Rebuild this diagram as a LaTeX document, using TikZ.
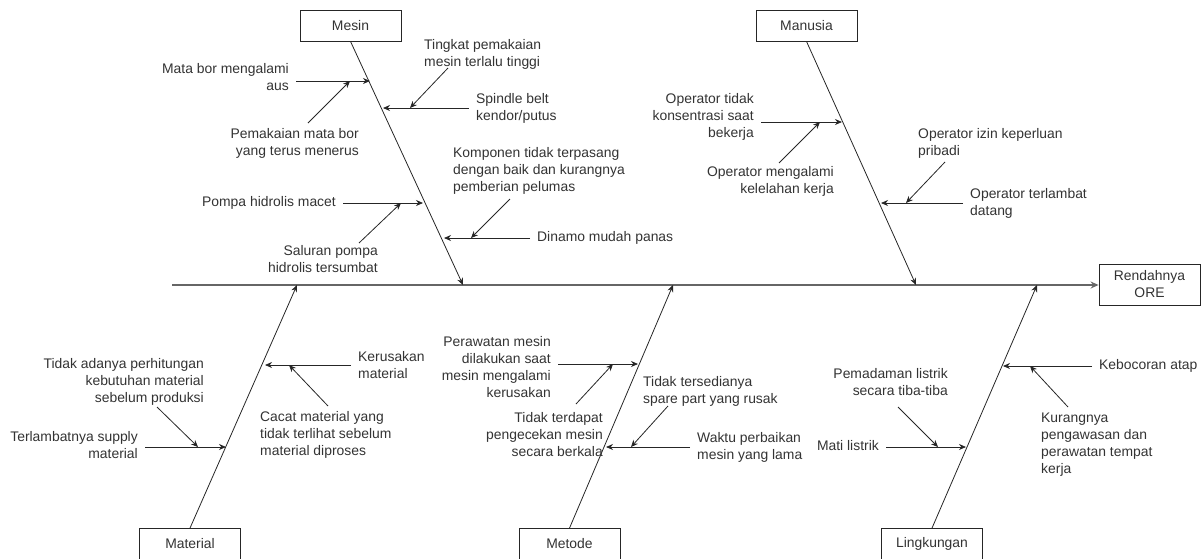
\documentclass[tikz,border=0pt]{standalone}
\usepackage{fontspec}
\setmainfont{Liberation Sans}
\usetikzlibrary{arrows.meta, calc}
\colorlet{line-color}{black!85}
\colorlet{spine-color}{black!60}
\colorlet{text-color}{black!80}
\tikzset{
    category/.style = {draw=line-color, line width=0.8pt, minimum width=101pt,
        minimum height=31pt, inner sep=0pt, align=center, text=text-color,
        font=\fontsize{13.9}{17}\selectfont},
    cause/.style = {inner xsep=7pt, inner ysep=0pt, text=text-color,
        font=\fontsize{13.9}{17}\selectfont},
    bone/.style = {draw=line-color, line width=0.8pt, -{Stealth[length=7pt,width=6pt]}},
    spine/.style = {draw=spine-color, line width=1.5pt, -{Stealth[length=8pt,width=7pt]}}
}

\begin{document}
\begin{tikzpicture}[x=1pt, y=-1pt]
\useasboundingbox (0,0) rectangle (1203,558);

% kategori
\node[category] (mesin)      at (350.5,25.5) {Mesin};
\node[category] (manusia)    at (806.5,25.5) {Manusia};
\node[category] (material)   at (190,544)    {Material};
\node[category] (metode)     at (569.5,544)  {Metode};
\node[category] (lingkungan) at (932,544)    {Lingkungan};
\node[category, minimum height=41pt] (ore) at (1149.5,284.5) {Rendahnya\\ORE};

% tulang utama
\coordinate (tail) at (172,285);
\draw[spine] (tail) -- (tail -| ore.west);

\coordinate (j-mesin)      at (463,285);
\coordinate (j-manusia)    at (916,285);
\coordinate (j-material)   at (297,285);
\coordinate (j-metode)     at (673,285);
\coordinate (j-lingkungan) at (1037,285);
\draw[bone] (mesin.south)      -- (j-mesin);
\draw[bone] (manusia.south)    -- (j-manusia);
\draw[bone] (material.north)   -- (j-material);
\draw[bone] (metode.north)     -- (j-metode);
\draw[bone] (lingkungan.north) -- (j-lingkungan);

% Mesin
\node[cause, anchor=east, align=right] (matabor) at (296,77.5) {Mata bor mengalami\\aus};
\node[cause, anchor=east, align=right] (pemakaian) at (366,143.5) {Pemakaian mata bor\\yang terus menerus};
\node[cause, anchor=west, align=left] (tingkat) at (417,54.5) {Tingkat pemakaian\\mesin terlalu tinggi};
\node[cause, anchor=west, align=left] (spindle) at (469,108.5) {Spindle belt\\kendor/putus};
\node[cause, anchor=west, align=left] (komponen) at (446,171) {Komponen tidak terpasang\\dengan baik dan kurangnya\\pemberian pelumas};
\node[cause, anchor=west] (dinamo) at (530,238) {Dinamo mudah panas};
\node[cause, anchor=east] (pompa) at (343,203) {Pompa hidrolis macet};
\node[cause, anchor=east, align=right] (saluran) at (385,259) {Saluran pompa\\hidrolis tersumbat};

\coordinate (m-1) at (370,81);
\coordinate (m-2) at (383,108);
\coordinate (m-3) at (423,203);
\coordinate (m-4) at (444,238);
\draw[bone] (matabor.east |- m-1) -- (m-1);
\draw[bone] (spindle.west |- m-2) -- (m-2);
\draw[bone] (pompa.east |- m-3) -- (m-3);
\draw[bone] (dinamo.west |- m-4) -- (m-4);
\coordinate (t-pemakaian) at (308,123);
\coordinate (t-tingkat)   at (448,68);
\coordinate (t-saluran)   at (359,243);
\coordinate (t-komponen)  at (510,199);
\draw[bone] (t-pemakaian) -- (350,81);
\draw[bone] (t-tingkat)   -- (410,108);
\draw[bone] (t-saluran)   -- (401,203);
\draw[bone] (t-komponen)  -- (471,238);

% Manusia
\node[cause, anchor=east, align=right] (optidak) at (761,117) {Operator tidak\\konsentrasi saat\\bekerja};
\node[cause, anchor=east, align=right] (oplelah) at (841,181) {Operator mengalami\\kelelahan kerja};
\node[cause, anchor=west, align=left] (opizin) at (911,143) {Operator izin keperluan\\pribadi};
\node[cause, anchor=west, align=left] (opterlambat) at (963,203.5) {Operator terlambat\\datang};

\coordinate (h-1) at (842,122);
\coordinate (h-2) at (881,203);
\draw[bone] (optidak.east |- h-1) -- (h-1);
\draw[bone] (opterlambat.west |- h-2) -- (h-2);
\coordinate (t-oplelah) at (779,163);
\coordinate (t-opizin)  at (945,162);
\draw[bone] (t-oplelah) -- (820,122);
\draw[bone] (t-opizin)  -- (906,203);

% Material
\node[cause, anchor=west, align=left] (kerusakan) at (351,365.5) {Kerusakan\\material};
\node[cause, anchor=west, align=left] (cacat) at (253,435) {Cacat material yang\\tidak terlihat sebelum\\material diproses};
\node[cause, anchor=east, align=right] (terlambatnya) at (145,445.5) {Terlambatnya supply\\material};
\node[cause, anchor=east, align=right] (tidakada) at (211,382) {Tidak adanya perhitungan\\kebutuhan material\\sebelum produksi};

\coordinate (a-1) at (265,365);
\coordinate (a-2) at (226,447);
\draw[bone] (kerusakan.west |- a-1) -- (a-1);
\draw[bone] (terlambatnya.east |- a-2) -- (a-2);
\coordinate (t-cacat)    at (328,406);
\coordinate (t-tidakada) at (157,407);
\draw[bone] (t-cacat)    -- (289,365);
\draw[bone] (t-tidakada) -- (198,447);

% Metode
\node[cause, anchor=east, align=right] (perawatan) at (558,367) {Perawatan mesin\\dilakukan saat\\mesin mengalami\\kerusakan};
\node[cause, anchor=east, align=right] (tidakcek) at (610,435) {Tidak terdapat\\pengecekan mesin\\secara berkala};
\node[cause, anchor=west, align=left] (waktu) at (690,447) {Waktu perbaikan\\mesin yang lama};
\node[cause, anchor=west, align=left] (sparepart) at (636,391.5) {Tidak tersedianya\\spare part yang rusak};

\coordinate (e-1) at (638,364);
\coordinate (e-2) at (606,447);
\draw[bone] (perawatan.east |- e-1) -- (e-1);
\draw[bone] (waktu.west |- e-2) -- (e-2);
\coordinate (t-tidakcek)  at (576,404);
\coordinate (t-sparepart) at (668,406);
\draw[bone] (t-tidakcek)  -- (613,364);
\draw[bone] (t-sparepart) -- (631,447);

% Lingkungan
\node[cause, anchor=west] (kebocoran) at (1092,366) {Kebocoran atap};
\node[cause, anchor=west, align=left] (kurang) at (1034,445) {Kurangnya\\pengawasan dan\\perawatan tempat\\kerja};
\node[cause, anchor=east] (mati) at (886,446) {Mati listrik};
\node[cause, anchor=east, align=right] (pemadaman) at (955,382.5) {Pemadaman listrik\\secara tiba-tiba};

\coordinate (l-1) at (1003,366);
\coordinate (l-2) at (966,447);
\draw[bone] (kebocoran.west |- l-1) -- (l-1);
\draw[bone] (mati.east |- l-2) -- (l-2);
\coordinate (t-kurang)    at (1068,407);
\coordinate (t-pemadaman) at (898,407);
\draw[bone] (t-kurang)    -- (1030,366);
\draw[bone] (t-pemadaman) -- (938,447);
\end{tikzpicture}
\end{document}
